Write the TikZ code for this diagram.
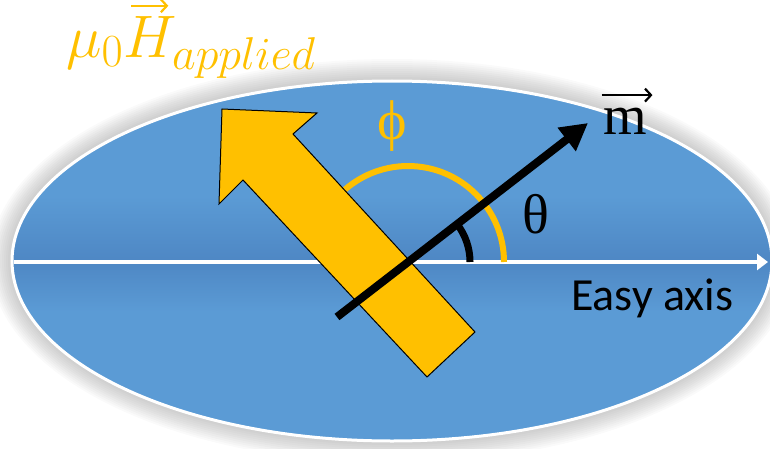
\RequirePackage{fix-cm}
\documentclass[tikz,border=0pt]{standalone}
\usepackage{amsmath}
\usepackage{fontspec}
\setmainfont{Liberation Serif}
\newfontfamily\calib{Carlito}
\usetikzlibrary{arrows.meta}
\DeclareMathSizes{60}{60}{46}{34}
\definecolor{ellblue}{HTML}{5B9BD5}
\definecolor{ellband}{HTML}{4E87C4}
\definecolor{fieldyellow}{HTML}{FFC000}
\pgfdeclareverticalshading{ellshade}{100bp}{color(0bp)=(ellblue); color(43bp)=(ellblue); color(50bp)=(ellband); color(59bp)=(ellblue); color(100bp)=(ellblue)}
\tikzset{
  anglearc/.style={line width=#1, line cap=butt},
  greeklabel/.style={inner sep=0pt, font=\fontsize{56}{60}\selectfont},
  vecarrow/.style={line width=2.2pt, -{Straight Barb[length=6pt,width=13pt,line width=2.2pt]}},
  fieldtext/.style={inner sep=0pt, text=fieldyellow, font=\fontsize{60}{72}\selectfont},
}
\begin{document}
\begin{tikzpicture}[x=1pt,y=1pt]
\useasboundingbox (0,0) rectangle (770,448);
\coordinate (E) at (392,187);
\coordinate (O) at (408,186);
\coordinate (axL) at (14,186);
\coordinate (axR) at (768,186);
% shadow
\foreach \rr in {22,20,...,2}
  \fill[black,opacity=0.018] (E) ellipse [x radius={380pt+\rr pt}, y radius={180pt+\rr pt}];
% ellipse
\shade[shading=ellshade] (E) ellipse [x radius=380pt, y radius=180pt];
\draw[white, line width=3pt] (E) ellipse [x radius=380pt, y radius=180pt];
% easy axis
\draw[white, line width=4pt, -{Triangle[length=11pt,width=16pt]}] (axL) -- (axR);
% angle arcs
\draw[fieldyellow, anglearc=6pt] (O) ++(96,0) arc[start angle=0, end angle=134, radius=96pt];
\draw[black, anglearc=7pt] (O) ++(62,0) arc[start angle=0, end angle=37.7, radius=62pt];
% applied field arrow
\coordinate (T) at (222,339);
\coordinate (B1) at (317,335);
\coordinate (N1) at (293,314);
\coordinate (R) at (475,116);
\coordinate (L) at (427,71);
\coordinate (N2) at (243,268);
\coordinate (B2) at (219,244);
\draw[fill=fieldyellow, draw=black, line width=1pt, line join=miter] (T) -- (B1) -- (N1) -- (R) -- (L) -- (N2) -- (B2) -- cycle;
% magnetisation
\coordinate (mS) at (337,131);
\coordinate (mE) at (588,325);
\draw[black, line width=8pt, -{Triangle[length=27pt,width=28pt]}] (mS) -- (mE);
% labels
\node[greeklabel, text=fieldyellow] (phi) at (392,321.5) {ϕ};
\node[greeklabel] (theta) at (536,233.5) {θ};
\node[greeklabel] (m) at (625.5,326.5) {m};
\draw[vecarrow, black] ([shift={(-2,13)}]m.north west) -- ([shift={(5,13)}]m.north east);
\node[inner sep=0pt, anchor=base west, font=\calib\fontsize{46}{50}\selectfont] (easy) at (571,138) {Easy axis};
\node[fieldtext, anchor=base west] (mu0) at (66,390) {$\mu_0$};
\node[fieldtext, anchor=base west] (Hn) at (mu0.base east) {$H_{applied}$};
\draw[vecarrow, fieldyellow] ([shift={(8,11)}]Hn.north west) -- ([shift={(45,11)}]Hn.north west);
\end{tikzpicture}
\end{document}
